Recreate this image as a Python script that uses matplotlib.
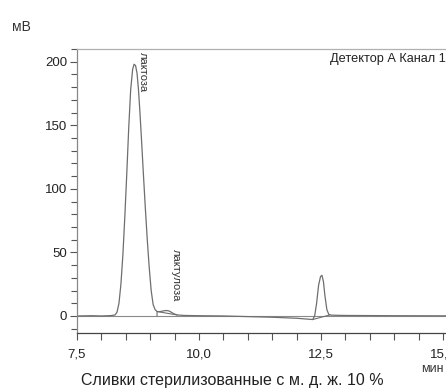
import matplotlib

matplotlib.use("Agg")
import matplotlib.pyplot as plt
from matplotlib.ticker import FixedLocator, MultipleLocator

plt.rcParams["font.family"] = ["Liberation Sans", "DejaVu Sans"]

# chromatogram trace (time in min, signal in mV)
time_min = [7.5, 7.8, 8.0, 8.2, 8.28, 8.32, 8.36, 8.40, 8.44, 8.48, 8.52, 8.56,
            8.60, 8.64, 8.67, 8.70, 8.73, 8.76, 8.79, 8.82, 8.86, 8.90, 8.94,
            8.98, 9.02, 9.06, 9.10, 9.14, 9.20, 9.27, 9.33, 9.38, 9.43, 9.48,
            9.55, 9.7, 10.0, 10.5, 11.0, 11.5, 12.0, 12.33, 12.37, 12.41,
            12.45, 12.49, 12.52, 12.55, 12.58, 12.62, 12.66, 12.72, 13.0,
            14.0, 15.0, 15.6]
signal_mv = [0.0, 0.2, 0.0, 0.3, 0.8, 3, 10, 25, 48, 78, 112, 148,
             178, 194, 198, 197, 191, 178, 160, 140, 112, 85, 60,
             38, 20, 9, 5, 3.5, 3.4, 4.0, 4.3, 4.0, 3.0, 1.8,
             0.8, 0.4, 0.2, 0.0, -0.5, -1.0, -1.8, -2.8, 0, 10,
             24, 31, 32, 27, 16, 5, 1.2, 0.6, 0.4,
             0.2, 0.1, 0.1]

# integration baselines under the peaks
base_lactulose_t = [9.14, 9.14, 9.55]
base_lactulose_v = [0.0, 3.5, 0.8]
base_peak3_t = [12.33, 12.68]
base_peak3_v = [-2.8, 0.8]

x_ticks = [7.5, 10.0, 12.5, 15.0]
x_tick_labels = ["7,5", "10,0", "12,5", "15,0"]
y_ticks = [0, 50, 100, 150, 200]

peak_labels = ["лактоза", "лактулоза"]
peak_label_x = [8.86, 9.52]
peak_label_y = [208, 53]

W, H = 446, 391
fig = plt.figure(figsize=(W / 100, H / 100), dpi=100)
x0, x1 = 7.5, 15.6
px_per_min = 48.8
ax = fig.add_axes([77 / W, 58 / H, (x1 - x0) * px_per_min / W, 284 / H])

line_col = "#6e6e6e"
ax.axhline(0, color="#8a8a8a", lw=0.8)
ax.plot(time_min, signal_mv, color=line_col, lw=0.9)
ax.plot(base_lactulose_t, base_lactulose_v, color=line_col, lw=0.8)
ax.plot(base_peak3_t, base_peak3_v, color=line_col, lw=0.8)

for lab, lx, ly in zip(peak_labels, peak_label_x, peak_label_y):
    ax.text(lx, ly, lab, rotation=270, ha="center", va="top", fontsize=8,
            color="#333333")

ax.set_xlim(x0, x1)
ax.set_ylim(-13.4, 210)
ax.xaxis.set_major_locator(FixedLocator(x_ticks))
ax.set_xticklabels(x_tick_labels)
ax.xaxis.set_minor_locator(MultipleLocator(0.5))
ax.yaxis.set_major_locator(FixedLocator(y_ticks))
ax.yaxis.set_minor_locator(MultipleLocator(10))
ax.tick_params(which="both", direction="out", colors="#555555", labelcolor="#222222",
               labelsize=9.5, width=0.8)
ax.tick_params(which="major", length=5, pad=2)
ax.tick_params(axis="y", which="minor", length=4)
ax.tick_params(axis="x", which="minor", length=5)
ax.tick_params(axis="x", pad=6)

ax.spines["right"].set_visible(False)
ax.spines["top"].set_color("#b0b0b0")
ax.spines["left"].set_color("#888888")
ax.spines["bottom"].set_color("#444444")
for s in ax.spines.values():
    s.set_linewidth(0.9)

fig.text(12 / W, 1 - 27 / H, "мВ", fontsize=10, color="#333333", va="center")
fig.text(330 / W, 1 - 59 / H, "Детектор А Канал 1", fontsize=9.2, color="#222222",
         va="center")
fig.text(421 / W, 1 - 369 / H, "мин", fontsize=9, color="#333333", va="center")
fig.text(232 / W, 1 - 381 / H, "Сливки стерилизованные с м. д. ж. 10 %",
         fontsize=11.5, color="#222222", ha="center", va="center")

fig.savefig("out.png", dpi=100)
